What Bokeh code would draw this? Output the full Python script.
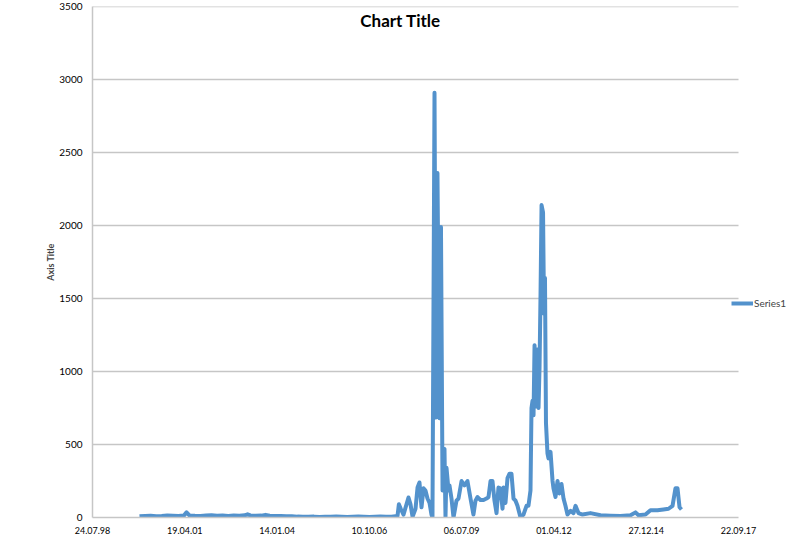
from bokeh.plotting import figure
from bokeh.models import FixedTicker, Legend, LegendItem, Label, ColumnDataSource, Range1d
from bokeh.embed import file_html
from bokeh.resources import INLINE

# Dates as Excel serial day numbers (36000 = 24.07.1998)
serial_dates = [
    36509, 36570, 36630, 36690, 36750, 36810, 36870, 36930, 36990, 37019,
    37050, 37110, 37170, 37230, 37290, 37350, 37410, 37470, 37530, 37590,
    37650, 37680, 37710, 37770, 37830, 37875, 37920, 37980, 38040, 38100,
    38160, 38220, 38280, 38340, 38400, 38460, 38520, 38580, 38640, 38700,
    38760, 38820, 38880, 38940, 39000, 39060, 39120, 39180, 39240,
    39305, 39320, 39340, 39370, 39424, 39446, 39468, 39500, 39522, 39543,
    39565, 39587, 39608, 39630, 39652, 39673, 39684, 39706, 39722, 39738,
    39760, 39776, 39793, 39814, 39825, 39836, 39858, 39868, 39890, 39912,
    39944, 39966, 39999, 40031, 40063, 40096, 40128, 40150, 40172, 40204,
    40237, 40269, 40291, 40313, 40334, 40356, 40378, 40399, 40421, 40443,
    40454, 40475, 40497, 40519, 40540, 40562, 40584, 40605, 40638, 40670,
    40703, 40724, 40746, 40757, 40768, 40779, 40790, 40806, 40822, 40833,
    40844, 40855, 40866, 40882, 40893, 40903, 40914, 40930, 40941, 40963,
    40985, 40995, 41017, 41039, 41060, 41082, 41104, 41125, 41147, 41180,
    41212, 41234, 41266, 41310, 41396, 41505, 41613, 41721, 41830, 41884,
    41917, 41992, 42046, 42122, 42187, 42242, 42285, 42317, 42339, 42361,
    42382,
]
series1 = [
    8, 10, 12, 9, 11, 14, 12, 10, 13, 35,
    14, 12, 11, 13, 15, 12, 14, 11, 13, 12,
    15, 22, 14, 12, 13, 18, 12, 11, 10, 9,
    8, 6, 5, 5, 6, 4, 5, 5, 6, 5,
    4, 5, 6, 5, 4, 5, 6, 5, 5,
    10, 90, 60, 20, 137, 90, 5, 60, 205, 240,
    70, 200, 185, 130, 100, 20, 0, 2910, 685, 2360,
    680, 1990, 185, 470, 0, 340, 185, 220, 130, 0,
    115, 130, 250, 220, 250, 130, 20, 115, 140, 120,
    120, 130, 140, 250, 250, 115, 30, 205, 200, 60,
    205, 100, 270, 300, 300, 130, 115, 80, 0, 20,
    80, 80, 185, 750, 800, 700, 1180, 760, 1150, 750,
    1030, 1535, 2140, 2090, 1395, 1640, 645, 440, 405, 450,
    250, 200, 140, 250, 165, 230, 130, 80, 20, 45,
    30, 80, 30, 20, 30, 15, 12, 10, 15, 35,
    15, 20, 50, 50, 55, 60, 80, 200, 200, 70,
    55,
]

x_tick_serials = [36000, 37000, 38000, 39000, 40000, 41000, 42000, 43000]
x_tick_labels = ["24.07.98", "19.04.01", "14.01.04", "10.10.06",
                 "06.07.09", "01.04.12", "27.12.14", "22.09.17"]
y_ticks = [0, 500, 1000, 1500, 2000, 2500, 3000, 3500]

FONT = "Lato"
BLUE = "#5392CC"
GRID = "#C6C6C6"

X0, X1 = x_tick_serials[0], x_tick_serials[-1]
# frame extends to the right edge so the legend (outside the gridlines) is not clipped
x_end = X0 + (X1 - X0) * (795 - 92) / (738 - 92)

src = ColumnDataSource(data=dict(x=serial_dates, y=series1))

p = figure(width=795, height=545, output_backend="svg", toolbar_location=None,
           x_range=Range1d(X0, x_end),
           y_range=Range1d(y_ticks[0], y_ticks[-1]),
           min_border_left=92, min_border_right=0, min_border_top=6, min_border_bottom=28)
p.margin = (0, 0, 0, 0)
p.outline_line_color = None
p.background_fill_color = "white"
p.border_fill_color = "white"

# horizontal gridlines limited to the axis span
p.segment(x0=[X0] * (len(y_ticks) - 1), x1=[X1] * (len(y_ticks) - 1),
          y0=y_ticks[1:], y1=y_ticks[1:], line_color=GRID, line_width=1.5)

r = p.line(x="x", y="y", source=src, line_width=4, color=BLUE, line_join="round")

# axes
p.xaxis.ticker = FixedTicker(ticks=x_tick_serials)
p.xaxis.major_label_overrides = {t: l for t, l in zip(x_tick_serials, x_tick_labels)}
p.xaxis.bounds = (X0, X1)
p.yaxis.ticker = FixedTicker(ticks=y_ticks)
for ax in (p.xaxis[0], p.yaxis[0]):
    ax.axis_line_color = GRID
    ax.axis_line_width = 1.5
    ax.major_tick_in = 0
    ax.major_tick_out = 0
    ax.minor_tick_in = 0
    ax.minor_tick_out = 0
    ax.major_label_text_font = FONT
    ax.major_label_text_color = "black"
p.xaxis.major_label_text_font_size = "9px"
p.yaxis.major_label_text_font_size = "10px"
p.xaxis.major_label_standoff = 9
p.yaxis.major_label_standoff = 10
p.yaxis.axis_label = "Axis Title"
p.yaxis.axis_label_text_font = FONT
p.yaxis.axis_label_text_font_size = "9px"
p.yaxis.axis_label_text_font_style = "bold"
p.yaxis.axis_label_standoff = 0

p.xgrid.grid_line_color = None
p.ygrid.grid_line_color = None

# title inside the chart area
p.add_layout(Label(x=39337, y=3404, text="Chart Title", text_align="center",
                   text_baseline="middle", text_font=FONT, text_font_size="17px",
                   text_font_style="bold", text_color="black"))
# x-axis title (cut off at the bottom like the reference)
p.add_layout(Label(x=39500, y=-164, text="Axis Title", text_align="center",
                   text_baseline="top", text_font=FONT, text_font_size="9px",
                   text_font_style="bold", text_color="black"))

leg = Legend(items=[LegendItem(label="Series1", renderers=[r])],
             location=(639, 204), padding=0, margin=0, spacing=0,
             glyph_width=22, glyph_height=20, label_height=20, label_standoff=1,
             label_text_font=FONT, label_text_font_size="10px",
             border_line_color=None, background_fill_alpha=0)
p.add_layout(leg, "center")

open("out.html", "w").write(file_html(p, INLINE))
